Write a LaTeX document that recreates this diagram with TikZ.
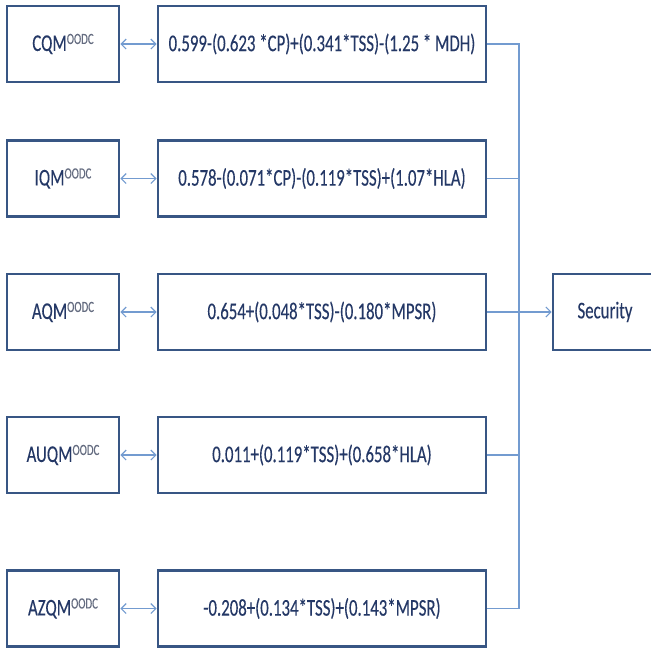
\documentclass[tikz,border=0pt]{standalone}
\usepackage{fontspec}
\setmainfont[FakeStretch=0.7,FakeBold=0.2]{Carlito}
\usetikzlibrary{arrows.meta}
\definecolor{boxline}{RGB}{56,86,132}
\definecolor{connline}{RGB}{115,155,208}
\definecolor{txt}{RGB}{36,56,102}
\definecolor{suptxt}{RGB}{100,108,128}
\newcommand{\oodc}{\raisebox{7pt}{\color{suptxt}\fontsize{15.5}{15.5}\selectfont OODC}}
\begin{document}
\begin{tikzpicture}[x=1pt,y=-1pt,
  box/.style={draw=boxline,line width=2.6pt,fill=white,text=txt,font=\fontsize{24}{26}\selectfont,inner sep=0pt},
  lbox/.style={box,minimum width=112pt,minimum height=76pt},
  fbox/.style={box,minimum width=328pt,minimum height=76pt},
  conn/.style={draw=connline,line width=1.2pt},
  biarrow/.style={conn,{Straight Barb[length=5pt,width=10pt]}-{Straight Barb[length=5pt,width=10pt]}},
  toarrow/.style={conn,-{Straight Barb[length=5pt,width=10pt]}}]
\useasboundingbox (0,0) rectangle (651,649);
\node[lbox] (l1) at (63,44) {CQM\oodc};
\node[lbox] (l2) at (63,178.5) {IQM\oodc};
\node[lbox] (l3) at (63,312) {AQM\oodc};
\node[lbox] (l4) at (63,455) {AUQM\oodc};
\node[lbox] (l5) at (63,608.5) {AZQM\oodc};
\node[fbox] (f1) at (322,44) {0.599-(0.623 *CP)+(0.341*TSS)-(1.25 * MDH)};
\node[fbox] (f2) at (322,178.5) {0.578-(0.071*CP)-(0.119*TSS)+(1.07*HLA)};
\node[fbox] (f3) at (322,312) {0.654+(0.048*TSS)-(0.180*MPSR)};
\node[fbox] (f4) at (322,455) {0.011+(0.119*TSS)+(0.658*HLA)};
\node[fbox] (f5) at (322,608.5) {-0.208+(0.134*TSS)+(0.143*MPSR)};
\node[box,minimum width=104pt,minimum height=76pt] (sec) at (605,312) {Security};
\coordinate (bt) at (519,44);
\coordinate (bb) at (519,608.5);
\foreach \i in {1,...,5} {\draw[biarrow] (l\i.east) -- (f\i.west);}
\draw[conn] (f1.east) -- (bt) -- (bb) -- (f5.east);
\draw[conn] (f2.east) -- (f2.east -| bt);
\draw[conn] (f4.east) -- (f4.east -| bt);
\draw[toarrow] (f3.east) -- (sec.west);
\end{tikzpicture}
\end{document}
